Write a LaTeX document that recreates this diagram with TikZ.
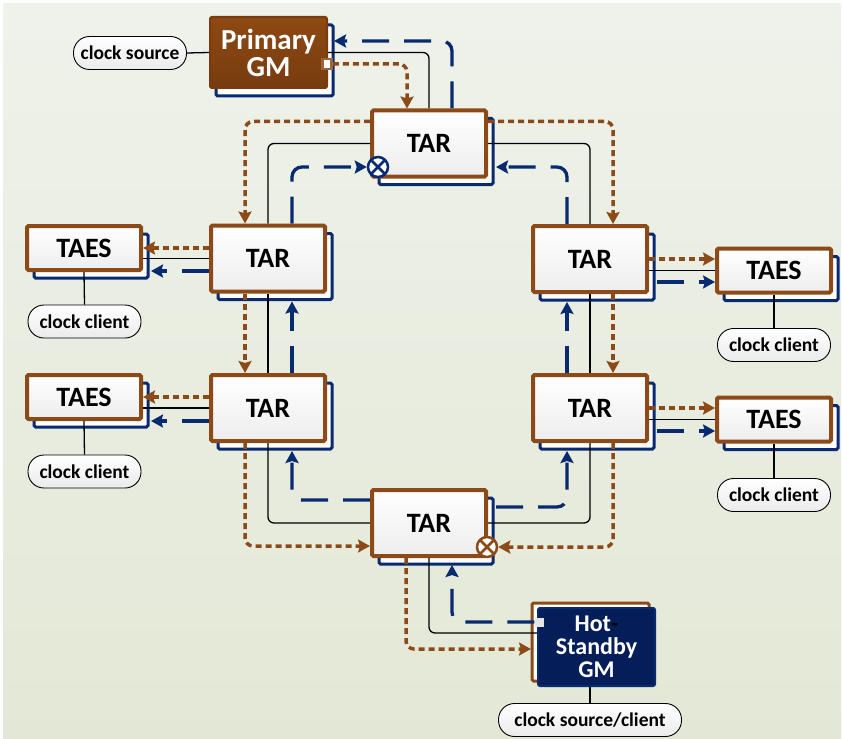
\documentclass[tikz,border=0pt]{standalone}
\usepackage{fontspec}
\setmainfont{Carlito}
\usetikzlibrary{arrows.meta,calc}
\pgfdeclarelayer{bg}\pgfdeclarelayer{shad}\pgfdeclarelayer{edges}
\pgfsetlayers{bg,shad,edges,main}
\definecolor{brn}{HTML}{8B4A17}
\definecolor{brnA}{HTML}{8E4913}
\definecolor{brnB}{HTML}{773C0F}
\definecolor{nvy}{HTML}{082A6E}
\definecolor{hsfill}{HTML}{051E5A}
\definecolor{bgtop}{HTML}{EFF2EA}
\definecolor{bgbot}{HTML}{E3E8D6}
\tikzset{
 tarbox/.style={draw=brn, line width=4pt, rounded corners=1.5pt, top color=white, bottom color=black!7,
   minimum width=114pt, minimum height=66pt, inner sep=0pt, font=\fontsize{28}{28}\selectfont\bfseries},
 taesbox/.style={tarbox, minimum height=44pt},
 gm/.style={draw=brnB, line width=2pt, rounded corners=2pt, top color=brnA, bottom color=brnB,
   minimum width=117pt, minimum height=71pt, inner sep=0pt, align=center, text=white,
   font=\fontsize{29}{27}\selectfont\bfseries},
 hsgm/.style={draw=nvy, line width=2pt, rounded corners=2pt, fill=hsfill,
   minimum width=117pt, minimum height=78pt, inner sep=0pt, align=center, text=white,
   font=\fontsize{24}{23}\selectfont\bfseries},
 pill/.style={draw=black, line width=0.9pt, rounded corners=16pt, top color=white, bottom color=black!8,
   minimum width=113pt, minimum height=33pt, inner sep=0pt, font=\fontsize{19.5}{20}\selectfont\bfseries},
 xc/.style={circle, draw=#1, line width=2.5pt, fill=white, minimum size=20pt, inner sep=0pt,
   path picture={\draw[#1, line width=2.5pt]
     (path picture bounding box.north west) -- (path picture bounding box.south east)
     (path picture bounding box.north east) -- (path picture bounding box.south west);}},
 porta/.style={draw=brn!85!white, line width=2.5pt, fill=white, minimum width=9pt, minimum height=10pt, inner sep=0pt},
 portb/.style={fill=black!10, minimum size=9pt, inner sep=0pt},
 shd/.style={draw=nvy, line width=3pt, fill=white, rounded corners=1.5pt},
 phys/.style={draw=black, line width=1.3pt, rounded corners=6pt},
 sync/.style={draw=brn, line width=3.5pt, dash pattern=on 6pt off 4pt, rounded corners=8pt,
   -{Stealth[length=12pt,width=13pt,inset=2pt]}},
 sig/.style={draw=nvy, line width=3.3pt, dash pattern=on 27pt off 15pt, rounded corners=10pt,
   -{Stealth[length=12pt,width=13pt,inset=2pt]}}
}
\begin{document}
\begin{tikzpicture}[x=1pt,y=-1pt]
\useasboundingbox (0,0) rectangle (842,738);
\begin{pgfonlayer}{bg}
\shade[top color=bgtop,bottom color=bgbot] (3,4) rectangle (841,738);
\end{pgfonlayer}

% nodes
\node[gm] (pgm) at (268.5,52.5) {Primary\\GM};
\node[pill] (cs) at (130,53) {clock source};
\node[tarbox] (tarT) at (429,143.5) {TAR};
\node[tarbox] (tarL1) at (268,258.5) {TAR};
\node[tarbox] (tarL2) at (268,408) {TAR};
\node[tarbox] (tarR1) at (590,259) {TAR};
\node[tarbox] (tarR2) at (590,408) {TAR};
\node[tarbox] (tarB) at (429,523) {TAR};
\node[taesbox] (taesL1) at (84,248) {TAES};
\node[taesbox] (taesL2) at (84,397) {TAES};
\node[taesbox] (taesR1) at (774,270.5) {TAES};
\node[taesbox] (taesR2) at (774,419.5) {TAES};
\node[pill] (ccL1) at (84.5,321.5) {clock client};
\node[pill] (ccL2) at (84.5,471.5) {clock client};
\node[pill] (ccR1) at (774,345) {clock client};
\node[pill] (ccR2) at (774,495) {clock client};
\node[hsgm] (hgm) at (596.5,647) {Hot{\color{black}-}\\Standby\\GM};
\node[pill, minimum width=183pt] (csc) at (590,720) {clock source/client};
\node[xc=nvy] (xT) at (378,167) {};
\node[xc=brn] (xB) at (487,547) {};
\node[porta] (p1) at (327,64) {};
\node[portb] (p2) at (539,622) {};

% shadows
\begin{pgfonlayer}{shad}
\foreach \n in {tarT,tarL1,tarL2,tarR1,tarR2,tarB,taesL1,taesL2,taesR1,taesR2}
  \draw[shd] ([shift={(9pt,-6pt)}]\n.south west) rectangle ([shift={(5pt,-10pt)}]\n.north east);
\draw[shd] ([shift={(7pt,-7pt)}]pgm.south west) rectangle ([shift={(5pt,-9pt)}]pgm.north east);
\draw[shd, draw=brn] ([shift={(-5pt,6pt)}]hgm.south west) rectangle ([shift={(-7pt,4pt)}]hgm.north east);
\end{pgfonlayer}

\begin{pgfonlayer}{edges}
% physical links
\draw[phys] (cs.east) -- (pgm.west);
\draw[phys] (pgm.east) -| (tarT.north);
\draw[phys] (tarT.west) -| (tarL1.north);
\draw[phys] (tarT.east) -| (tarR1.north);
\draw[phys] (tarL1.south) -- (tarL2.north);
\draw[phys] (tarR1.south) -- (tarR2.north);
\draw[phys] (tarL2.south) |- (tarB.west);
\draw[phys] (tarR2.south) |- (tarB.east);
\draw[phys] (tarB.south) |- ([yshift=14pt]hgm.west);
\draw[phys] (tarL1.west) -- (tarL1.west -| taesL1.east);
\draw[phys] (tarL2.west) -- (tarL2.west -| taesL2.east);
\draw[phys] (taesR1.west) -- (taesR1.west -| tarR1.east);
\draw[phys] (taesR2.west) -- (taesR2.west -| tarR2.east);
\draw[phys] (taesL1.south) -- (ccL1.north);
\draw[phys] (taesL2.south) -- (ccL2.north);
\draw[phys] (taesR1.south) -- (ccR1.north);
\draw[phys] (taesR2.south) -- (ccR2.north);
\draw[phys] (hgm.south -| csc.north) -- (csc.north);

% sync messages (Primary GM)
\draw[sync] (p1.east) -| ([xshift=-22pt]tarT.north);
\draw[sync] ([yshift=22pt]tarT.west) -| ([xshift=-23pt]tarL1.north);
\draw[sync] ([yshift=22pt]tarT.east) -| ([xshift=23pt]tarR1.north);
\draw[sync] ([xshift=-23pt]tarL1.south) -- ([xshift=-23pt]tarL2.north);
\draw[sync] ([xshift=23pt]tarR1.south) -- ([xshift=23pt]tarR2.north);
\draw[sync] ([xshift=-23pt]tarL2.south) |- ([yshift=-23pt]tarB.west);
\draw[sync] ([xshift=23pt]tarR2.south) |- (xB.east);
\draw[sync] ([xshift=-23pt]tarB.south) |- ([xshift=-6pt,yshift=-2pt]hgm.west);
\draw[sync] (taesL1.east -| tarL1.west) -- (taesL1.east);
\draw[sync] (taesL2.east -| tarL2.west) -- (taesL2.east);
\draw[sync] (tarR1.east) -- (tarR1.east -| taesR1.west);
\draw[sync] (tarR2.east) -- (tarR2.east -| taesR2.west);

% sync messages (Hot-Standby GM)
\draw[sig] (p2.west) -| ([xshift=23pt,yshift=-7pt]tarB.south);
\draw[sig] ([yshift=23pt]tarB.west) -| ([xshift=24pt,yshift=-8pt]tarL2.south);
\draw[sig] ([xshift=8pt,yshift=16pt]tarB.east) -| ([xshift=-23pt,yshift=-8pt]tarR2.south);
\draw[sig] ([xshift=24pt]tarL2.north) -- ([xshift=24pt,yshift=-8pt]tarL1.south);
\draw[sig] ([xshift=-23pt]tarR2.north) -- ([xshift=-23pt,yshift=-8pt]tarR1.south);
\draw[sig] ([xshift=24pt]tarL1.north) |- (xT.west);
\draw[sig] ([xshift=-23pt]tarR1.north) |- ([xshift=8pt,yshift=-23.5pt]tarT.east);
\draw[sig] ([xshift=23pt]tarT.north) |- ([xshift=6pt,yshift=11.5pt]pgm.east);
\draw[sig] ([yshift=-12.5pt]tarL1.west) -- ([xshift=8pt,yshift=-23pt]taesL1.east);
\draw[sig] ([yshift=-13pt]tarL2.west) -- ([xshift=8pt,yshift=-24pt]taesL2.east);
\draw[sig] ([xshift=8pt,yshift=-23pt]tarR1.east) -- ([yshift=-11.5pt]taesR1.west);
\draw[sig] ([xshift=8pt,yshift=-23pt]tarR2.east) -- ([yshift=-11.5pt]taesR2.west);
\end{pgfonlayer}
\end{tikzpicture}
\end{document}
